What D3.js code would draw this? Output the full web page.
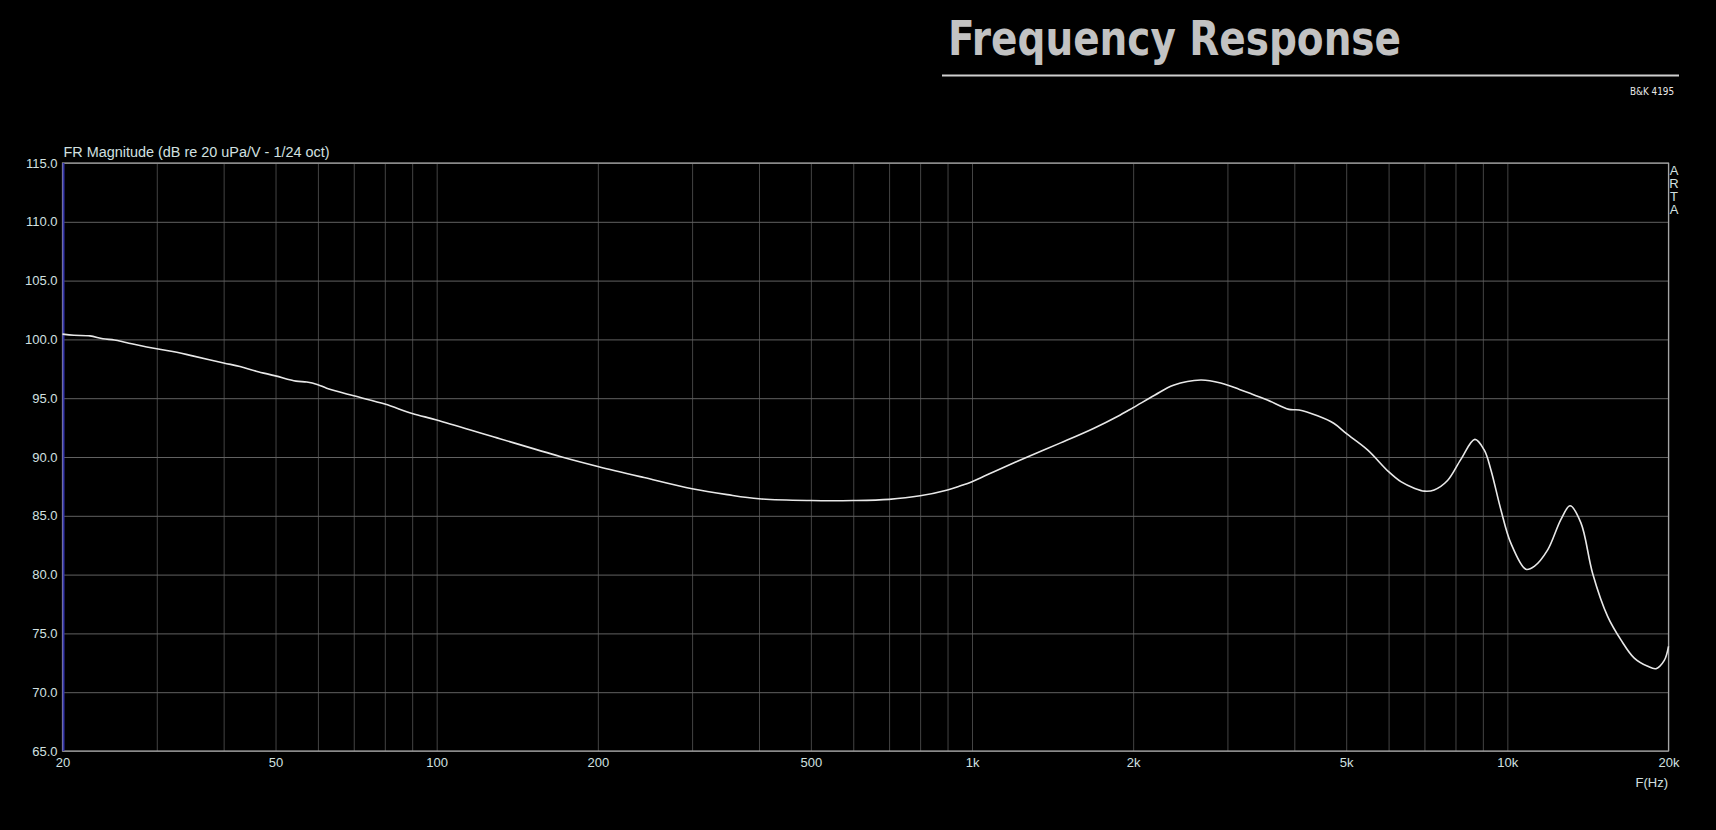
<!DOCTYPE html>
<html><head><meta charset="utf-8">
<script src="https://cdn.jsdelivr.net/npm/d3@7"></script>
<style>html,body{margin:0;padding:0;background:#000;overflow:hidden}</style>
</head><body><svg id="c" width="1716" height="830"></svg>
<script>
const freqHz = [20, 21, 22.5, 23.8, 25, 26.4, 30, 32.7, 35, 40, 42.9, 46, 50, 54.6, 57.2, 60, 62.3, 70, 80, 90, 100, 128, 170, 200, 244, 300, 349, 400, 500, 600, 700, 800, 900, 952, 1000, 1099, 1269, 1464, 1690, 1869, 2000, 2193, 2378, 2675, 2914, 3159, 3316, 3562, 3910, 4082, 4420, 4746, 5000, 5480, 6000, 6325, 6700, 7000, 7300, 7732, 8188, 8696, 9052, 9318, 9728, 10156, 10832, 11228, 11894, 12594, 13100, 13722, 14432, 15392, 16300, 17262, 18292, 18952, 19640, 20000];
const magDb = [100.45, 100.35, 100.3, 100.05, 99.95, 99.72, 99.2, 98.9, 98.6, 98.0, 97.7, 97.3, 96.9, 96.45, 96.38, 96.15, 95.85, 95.2, 94.5, 93.7, 93.15, 91.7, 90.05, 89.2, 88.25, 87.3, 86.8, 86.45, 86.3, 86.3, 86.4, 86.7, 87.2, 87.55, 87.9, 88.75, 90.0, 91.2, 92.45, 93.45, 94.2, 95.25, 96.1, 96.55, 96.3, 95.75, 95.4, 94.85, 94.05, 94.0, 93.5, 92.85, 92.0, 90.6, 88.75, 87.9, 87.35, 87.1, 87.2, 88.0, 89.8, 91.5, 90.6, 88.9, 85.5, 82.65, 80.45, 80.7, 82.1, 84.7, 85.85, 84.4, 80.1, 76.45, 74.45, 72.9, 72.2, 72.0, 72.7, 73.9];
const yTicks = [65, 70, 75, 80, 85, 90, 95, 100, 105, 110, 115];
const xTickValues = [20, 50, 100, 200, 500, 1000, 2000, 5000, 10000, 20000];
const xTickLabels = ["20", "50", "100", "200", "500", "1k", "2k", "5k", "10k", "20k"];
const gridFreqs = [20,30,40,50,60,70,80,90,100,200,300,400,500,600,700,800,900,1000,2000,3000,4000,5000,6000,7000,8000,9000,10000,20000];
const titleText = "Frequency Response";
const subText = "B&K 4195";
const yAxisTitle = "FR Magnitude (dB re 20 uPa/V - 1/24 oct)";
const xAxisTitle = "F(Hz)";
const sideLetters = ["A", "R", "T", "A"];

const svg = d3.select("#c");
const L = 62.5, R = 1668.5, T = 163, B = 751;
const x = d3.scaleLog().domain([20, 20000]).range([L, R]);
const y = d3.scaleLinear().domain([65, 115]).range([B, T]);
const txtCol = "#d2e0e0";
const font = "'Liberation Sans', Arial, sans-serif";

svg.append("rect").attr("width", 1716).attr("height", 830).attr("fill", "#000");

// Title
svg.append("text").attr("x", 948).attr("y", 54.5).text(titleText)
  .attr("font-family", "'DejaVu Sans Condensed','DejaVu Sans',sans-serif").attr("font-weight", "bold")
  .attr("font-size", 48).attr("fill", "#c2c2c2")
  .attr("textLength", 453).attr("lengthAdjust", "spacingAndGlyphs");
svg.append("line").attr("x1", 942).attr("x2", 1679).attr("y1", 75.5).attr("y2", 75.5)
  .attr("stroke", "#cfcfcf").attr("stroke-width", 2);
svg.append("text").attr("x", 1674).attr("y", 95).attr("text-anchor", "end").text(subText)
  .attr("font-family", "'DejaVu Sans Condensed','DejaVu Sans',sans-serif").attr("font-size", 10)
  .attr("fill", "#e8e8e8").attr("textLength", 44).attr("lengthAdjust", "spacingAndGlyphs");

// Grid: vertical
svg.append("g").attr("transform", `translate(0,${B})`)
  .call(d3.axisBottom(x).tickValues(gridFreqs).tickSize(-(B - T)).tickFormat(""))
  .call(g => g.select(".domain").remove())
  .call(g => g.selectAll("line").attr("stroke", "#444444").attr("stroke-width", 1));
// Grid: horizontal
svg.append("g").attr("transform", `translate(${L},0)`)
  .call(d3.axisLeft(y).tickValues(yTicks).tickSize(-(R - L)).tickFormat(""))
  .call(g => g.select(".domain").remove())
  .call(g => g.selectAll("line").attr("stroke", "#626262").attr("stroke-width", 1));

// Frame
svg.append("rect").attr("x", L).attr("y", T).attr("width", R - L).attr("height", B - T)
  .attr("fill", "none").attr("stroke", "#a6a6a6").attr("stroke-width", 1.2);
svg.append("line").attr("x1", L + 1).attr("x2", L + 1).attr("y1", T).attr("y2", B)
  .attr("stroke", "#3434a8").attr("stroke-width", 2);

// Y labels
svg.append("g").attr("transform", `translate(${L},0)`)
  .call(d3.axisLeft(y).tickValues(yTicks).tickSize(0).tickPadding(5).tickFormat(d => d.toFixed(1)))
  .call(g => g.select(".domain").remove())
  .call(g => g.selectAll("text").attr("fill", txtCol).attr("font-family", font).attr("font-size", 13));

// X labels
svg.append("g").attr("transform", `translate(0,${B})`)
  .call(d3.axisBottom(x).tickValues(xTickValues).tickSize(0).tickPadding(7)
    .tickFormat((d, i) => xTickLabels[i]))
  .call(g => g.select(".domain").remove())
  .call(g => g.selectAll("text").attr("fill", txtCol).attr("font-family", font).attr("font-size", 13));

// Axis titles
svg.append("text").attr("x", 63.5).attr("y", 156.5).text(yAxisTitle)
  .attr("fill", txtCol).attr("font-family", font).attr("font-size", 14)
  .attr("textLength", 266).attr("lengthAdjust", "spacingAndGlyphs");
svg.append("text").attr("x", 1668).attr("y", 787).attr("text-anchor", "end").text(xAxisTitle)
  .attr("fill", txtCol).attr("font-family", font).attr("font-size", 13);
svg.selectAll("text.side").data(sideLetters).enter().append("text").attr("class", "side")
  .attr("x", 1674).attr("y", (d, i) => 175 + i * 13).attr("text-anchor", "middle").text(d => d)
  .attr("fill", txtCol).attr("font-family", font).attr("font-size", 13);

// Curve
const pts = freqHz.map((f, i) => [f, magDb[i]]);
const line = d3.line().x(d => x(d[0])).y(d => y(d[1])).curve(d3.curveCatmullRom.alpha(0.5));
svg.append("path").datum(pts).attr("d", line).attr("fill", "none")
  .attr("stroke", "#e8e8e8").attr("stroke-width", 1.6).attr("stroke-linejoin", "round");
</script></body></html>
